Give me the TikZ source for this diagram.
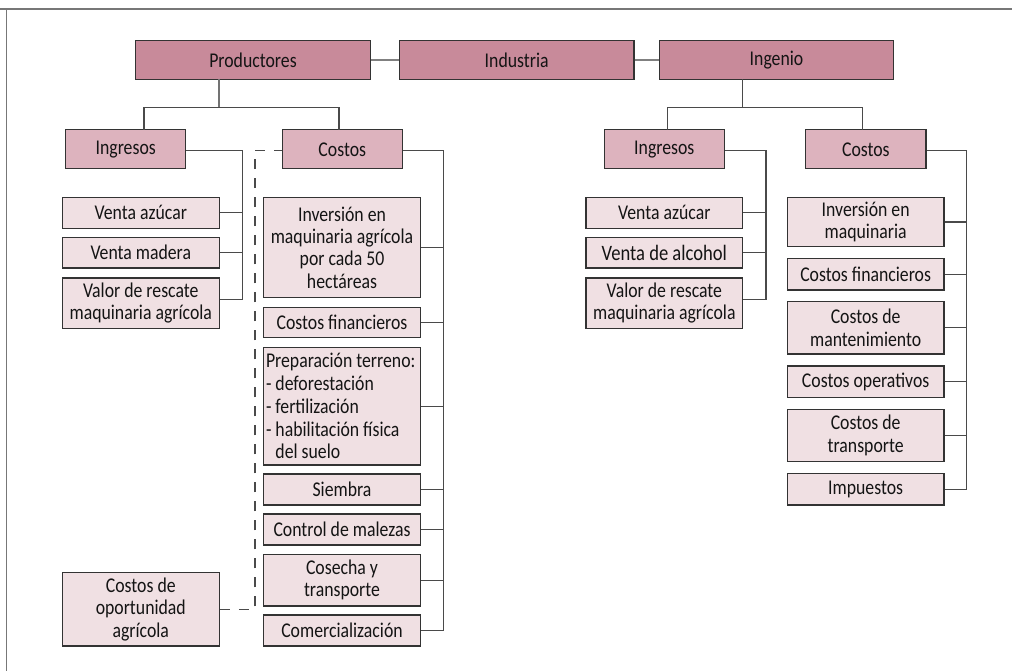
\documentclass[tikz,border=0pt]{standalone}
\usepackage{fontspec}
\setmainfont{Carlito}[FakeStretch=0.845]
\definecolor{hdrfill}{HTML}{C88A9A}
\definecolor{midfill}{HTML}{DDB3BE}
\definecolor{leaffill}{HTML}{F0E0E3}
\definecolor{edge}{HTML}{333333}
\definecolor{conncol}{HTML}{4A4A4A}
\definecolor{framecol}{HTML}{777777}
\tikzset{
  boxbase/.style={draw=edge, line width=1.2pt, inner sep=0pt, text=black!92, align=center,
    font=\fontsize{21}{22.4}\selectfont},
  hdr/.style={boxbase, fill=hdrfill, minimum width=234.7pt, minimum height=39pt},
  mid/.style={boxbase, fill=midfill, minimum width=120pt, minimum height=39pt},
  leaf/.style={boxbase, fill=leaffill},
  conn/.style={draw=conncol, line width=1.2pt},
  topconn/.style={draw=black!50, line width=2pt},
  dashconn/.style={draw=conncol, line width=1.2pt, dash pattern=on 10pt off 9pt}
}
\begin{document}
\begin{tikzpicture}[x=1pt,y=-1pt]
\useasboundingbox (0,0) rectangle (1012,671);
% frame
\draw[framecol, line width=2pt] (0,9) -- (1012,9);
\draw[framecol, line width=1.5pt] (6.5,9) -- (6.5,671);

% headers
\node[hdr] (prod) at (253,59.8) {Productores};
\node[hdr] (ind) at (516.65,59.8) {Industria};
\node[hdr] (ing) at (776.5,59.8) {Ingenio};
\draw[topconn] (prod.east) -- (ind.west);
\draw[topconn] (ind.east) -- (ing.west);

% left second level
\node[mid] (ingL) at (125.7,149.3) {Ingresos};
\node[mid] (cosL) at (342.3,149.3) {Costos};
\coordinate (jL) at (219,107.3);
\draw[conn, draw=black!55] (219,79.3) -- (jL);
\draw[conn] (144,107.3) -- (339,107.3);
\draw[conn] (144,107.3) -- (144,129.8);
\draw[conn] (339,107.3) -- (339,129.8);

% right second level
\node[mid] (ingR) at (664.3,149.3) {Ingresos};
\node[mid, minimum width=120.3pt] (cosR) at (865.85,149.3) {Costos};
\draw[conn] (742.3,79.3) -- (742.3,107.3);
\draw[conn] (667.7,107.3) -- (862.3,107.3);
\draw[conn] (667.7,107.3) -- (667.7,129.8);
\draw[conn] (862.3,107.3) -- (862.3,129.8);

% left ingresos leaves
\node[leaf, minimum width=157pt, minimum height=31pt] (vaL) at (140.8,212.8) {Venta azúcar};
\node[leaf, minimum width=157pt, minimum height=30.7pt] (vmL) at (140.8,252.65) {Venta madera};
\node[leaf, minimum width=157pt, minimum height=50.3pt] (vrL) at (140.8,303.15) {Valor de rescate\\maquinaria agrícola};
\node[leaf, minimum width=157pt, minimum height=73.7pt] (opL) at (140.8,609.15) {Costos de\\oportunidad\\agrícola};
\coordinate (bIL) at (242.3,150.7);
\draw[conn] (ingL.east |- bIL) -- (bIL) -- (242.3,299.3) -- (vrL.east |- 0,299.3);
\draw[conn] (vaL.east) -- (242.3,212.8);
\draw[conn] (vmL.east) -- (242.3,252.65);

% left costos leaves
\node[leaf, minimum width=157.4pt, minimum height=100.4pt] (inv) at (342,247.5) {Inversión en\\maquinaria agrícola\\por cada 50\\hectáreas};
\node[leaf, minimum width=157.4pt, minimum height=30.2pt] (cf) at (342,322.4) {Costos financieros};
\node[leaf, minimum width=157.4pt, minimum height=117.7pt, align=left, font=\fontsize{21}{22.8}\selectfont] (prep) at (342,406.15)
  {\makebox[152pt][l]{Preparación terreno:}\\- deforestación\\- fertilización\\- habilitación física\\\phantom{- }del suelo};
\node[leaf, minimum width=157.4pt, minimum height=31pt] (sie) at (342,489.5) {Siembra};
\node[leaf, minimum width=157.4pt, minimum height=31pt] (ctl) at (342,529.5) {Control de malezas};
\node[leaf, minimum width=157.4pt, minimum height=51.7pt] (cyt) at (342,580.15) {Cosecha y\\transporte};
\node[leaf, minimum width=157.4pt, minimum height=31pt] (com) at (342,630.5) {Comercialización};
\coordinate (bCL) at (443.3,150.7);
\draw[conn] (cosL.east |- bCL) -- (bCL) -- (443.3,630.5) -- (com.east);
\foreach \n in {inv,cf,prep,sie,ctl,cyt} \draw[conn] (\n.east) -- (443.3,0 |- \n.east);

% dashed opportunity cost link
\coordinate (dTop) at (255,150.7);
\draw[dashconn] (opL.east) -- (255,609.15) -- (dTop) -- (cosL.west |- dTop);

% right ingresos leaves
\node[leaf, minimum width=156.7pt, minimum height=31pt] (vaR) at (664.35,212.8) {Venta azúcar};
\node[leaf, minimum width=156.7pt, minimum height=30.7pt, font=\fontsize{22}{22.4}\selectfont] (vdR) at (664.35,252.65) {Venta de alcohol};
\node[leaf, minimum width=156.7pt, minimum height=50.3pt] (vrR) at (664.35,303.15) {Valor de rescate\\maquinaria agrícola};
\coordinate (bIR) at (766,150.7);
\draw[conn] (ingR.east |- bIR) -- (bIR) -- (766,299.3) -- (vrR.east |- 0,299.3);
\draw[conn] (vaR.east) -- (766,212.8);
\draw[conn] (vdR.east) -- (766,252.65);

% right costos leaves
\node[leaf, minimum width=156.7pt, minimum height=49.4pt] (invR) at (865.65,222) {Inversión en\\maquinaria};
\node[leaf, minimum width=156.7pt, minimum height=31.7pt] (cfR) at (865.65,274.15) {Costos financieros};
\node[leaf, minimum width=156.7pt, minimum height=52.3pt] (cmR) at (865.65,327.85) {Costos de\\mantenimiento};
\node[leaf, minimum width=156.7pt, minimum height=31.3pt] (coR) at (865.65,381.65) {Costos operativos};
\node[leaf, minimum width=156.7pt, minimum height=52.4pt] (ctR) at (865.65,435.5) {Costos de\\transporte};
\node[leaf, minimum width=156.7pt, minimum height=31.7pt] (imR) at (865.65,489.15) {Impuestos};
\coordinate (bCR) at (966.7,150.7);
\draw[conn] (cosR.east |- bCR) -- (bCR) -- (966.7,489.15) -- (imR.east);
\foreach \n in {invR,cfR,cmR,coR,ctR} \draw[conn] (\n.east) -- (966.7,0 |- \n.east);
\end{tikzpicture}
\end{document}
